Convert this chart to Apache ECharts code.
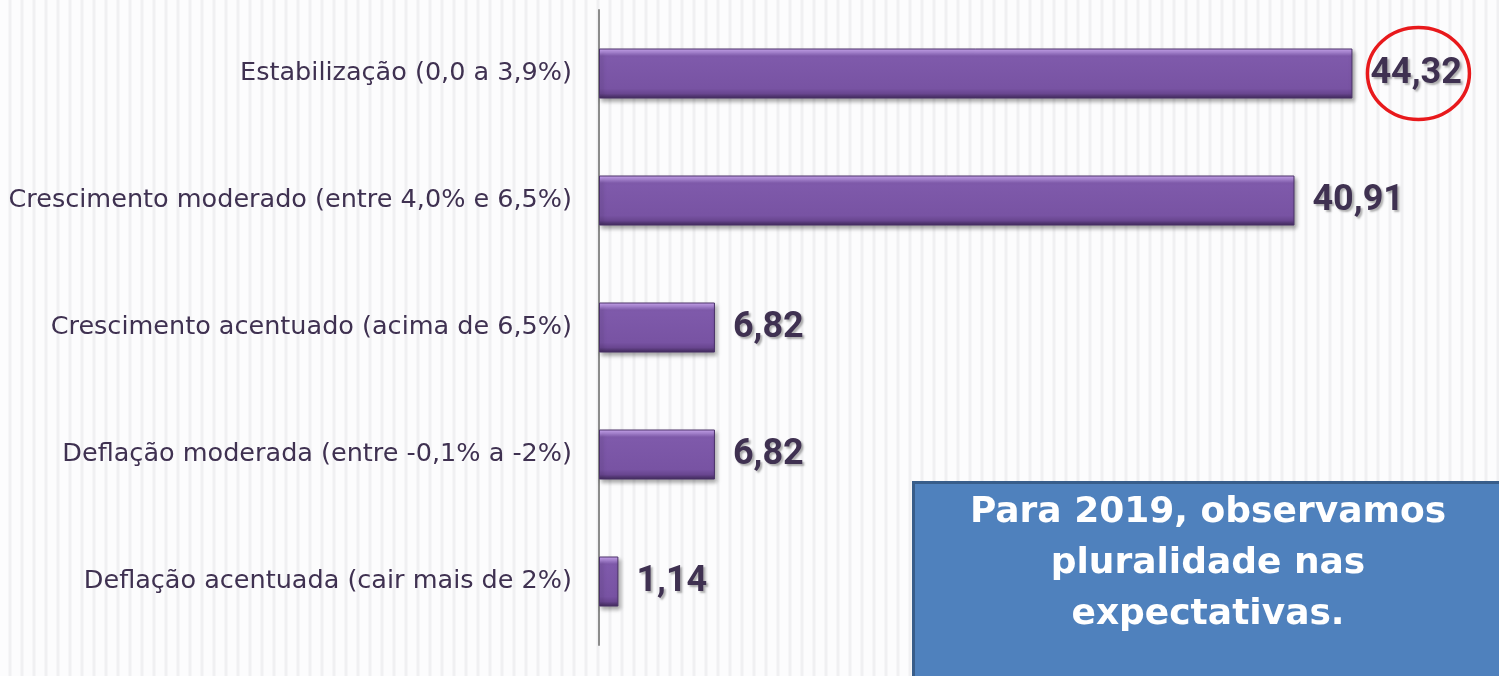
<!DOCTYPE html>
<html>
<head>
<meta charset="utf-8">
<script src="https://cdn.jsdelivr.net/npm/echarts@6/dist/echarts.min.js"></script>
<style>
  html, body { margin: 0; padding: 0; }
  body {
    width: 1499px; height: 676px; overflow: hidden;
    background: repeating-linear-gradient(90deg, #fcfcfd 0px, #fcfcfd 8px, #f0f0f2 9px, #f0f0f2 11px, #fcfcfd 12px);
  }
  #chart { width: 1499px; height: 676px; }
</style>
</head>
<body>
<div id="chart"></div>
<script>
// categorias, de cima para baixo
const categorias = [
  'Estabilização (0,0 a 3,9%)',
  'Crescimento moderado (entre 4,0% e 6,5%)',
  'Crescimento acentuado (acima de 6,5%)',
  'Deflação moderada (entre -0,1% a -2%)',
  'Deflação acentuada (cair mais de 2%)'
];
const valores = [44.32, 40.91, 6.82, 6.82, 1.14];
const destaque = 0; // índice do valor circulado
const textoCaixa = 'Para 2019, observamos\npluralidade nas\nexpectativas.';

const chart = echarts.init(document.getElementById('chart'));

// barra com efeito de bisel
const barColor = new echarts.graphic.LinearGradient(0, 0, 0, 1, [
  { offset: 0, color: '#cdaaf3' },
  { offset: 0.08, color: '#ab86d6' },
  { offset: 0.15, color: '#7f5aab' },
  { offset: 0.8, color: '#7853a3' },
  { offset: 0.9, color: '#694690' },
  { offset: 1, color: '#3e2958' }
]);

const option = {
  backgroundColor: 'transparent',
  animation: false,
  grid: { left: 599, right: 50, top: 10, bottom: 31 },
  xAxis: {
    type: 'value', min: 0, max: 50,
    show: false
  },
  yAxis: {
    type: 'category',
    inverse: true,
    data: categorias,
    axisLine: { show: true, lineStyle: { color: '#8c8c8c', width: 2 } },
    axisTick: { show: false },
    axisLabel: {
      margin: 27,
      fontFamily: 'DejaVu Sans',
      fontSize: 25.5,
      color: '#3f3151'
    }
  },
  series: [{
    type: 'bar',
    data: valores,
    barWidth: 50,
    itemStyle: {
      color: barColor,
      borderColor: '#4a3169',
      borderWidth: 1,
      shadowColor: 'rgba(0,0,0,0.35)',
      shadowBlur: 4,
      shadowOffsetX: 2,
      shadowOffsetY: 3
    },
    label: {
      show: true,
      position: 'right',
      distance: 18,
      fontFamily: 'Roboto',
      fontWeight: 'bold',
      fontSize: 36,
      color: '#3f3151',
      textShadowColor: 'rgba(0,0,0,0.3)',
      textShadowBlur: 2,
      textShadowOffsetX: 2,
      textShadowOffsetY: 2,
      formatter: p => p.value.toFixed(2).replace('.', ',')
    }
  }]
};
chart.setOption(option);

// elipse vermelha em volta do valor destacado + caixa de texto
const pt = chart.convertToPixel({ gridIndex: 0 }, [valores[destaque], destaque]);
chart.setOption({
  graphic: [
    {
      type: 'ellipse',
      shape: { cx: pt[0] + 66, cy: pt[1], rx: 51, ry: 46 },
      style: { fill: null, stroke: '#e8191c', lineWidth: 3.5 }
    },
    {
      type: 'rect',
      left: 912, top: 481,
      shape: { width: 600, height: 210 },
      style: { fill: '#4f81bd', stroke: '#385d8a', lineWidth: 3 }
    },
    {
      type: 'text',
      x: 1208, y: 487,
      style: {
        text: textoCaixa,
        fill: '#ffffff',
        font: 'bold 36px "DejaVu Sans"',
        lineHeight: 51,
        align: 'center',
        verticalAlign: 'top'
      }
    }
  ]
});
</script>
</body>
</html>
